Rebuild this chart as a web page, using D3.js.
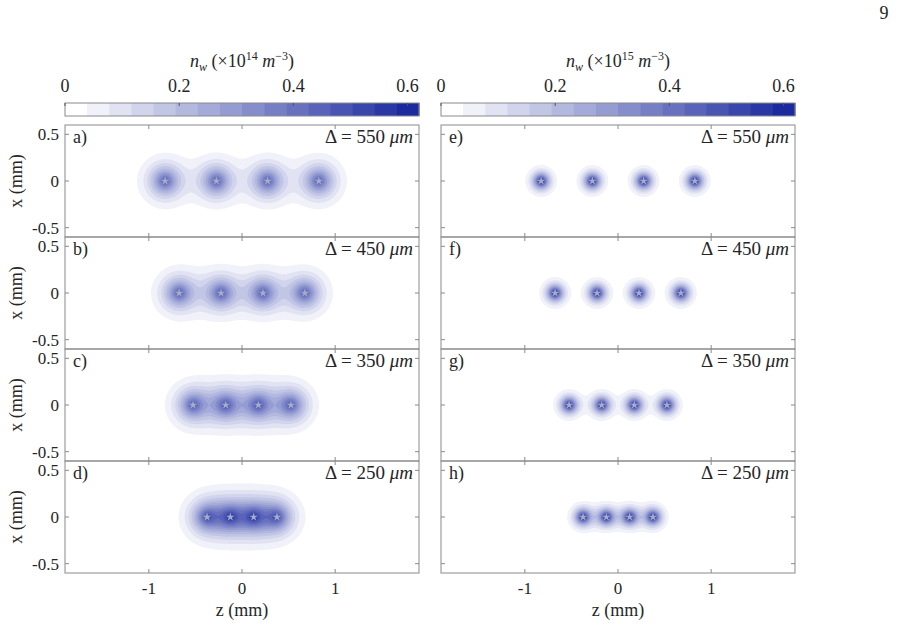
<!DOCTYPE html>
<html>
<head>
<meta charset="utf-8">
<script src="https://cdn.jsdelivr.net/npm/d3@7"></script>
</head>
<body style="margin:0; background:#fff">
<svg id="chart" width="915" height="629"></svg>
<script>
const width = 915;
const height = 629;

// emitter positions along z (mm), one row per panel
const spacings = [550, 450, 350, 250];
const emitterZ = [
    [-0.825, -0.275, 0.275, 0.825],
    [-0.675, -0.225, 0.225, 0.675],
    [-0.525, -0.175, 0.175, 0.525],
    [-0.375, -0.125, 0.125, 0.375]
];
const leftLabels = ['a)', 'b)', 'c)', 'd)'];
const rightLabels = ['e)', 'f)', 'g)', 'h)'];
const exponents = ['14', '15'];

// single emitter profile per column: peak, spread (mm), shape exponent
const peakDensity = [0.45, 0.64];
const spreadMM = [0.151, 0.077];
const profileExp = [1.3, 1.3];

const cbarTicks = [0, 0.2, 0.4, 0.6];
const cbarMax = 0.62;
const nLevels = 16;
const zTicks = [-1, 0, 1];
const xTicks = [0.5, 0, -0.5];

const zDomain = [-1.9, 1.9];
const xDomain = [-0.6, 0.6];

const colLeft = [65, 441];
const colWidth = 354;
const rowTop = [125, 237, 349, 461];
const rowHeight = 112;

const svg = d3.select('#chart');
const step = cbarMax / nLevels;
const levels = d3.range(1, nLevels).map(k => k * step);
const colorOf = k => d3.interpolateRgb('#ffffff', '#1b2a9f')(k / (nLevels - 1));
const frameColor = '#8a8a8a';
const fontName = 'Liberation Serif';

// page number
svg.append('text').attr('x', 884).attr('y', 19).attr('text-anchor', 'middle')
    .attr('font-size', 18).text('9');

// grid
const dz = 0.01;
const nx = Math.round((zDomain[1] - zDomain[0]) / dz);
const ny = Math.round((xDomain[1] - xDomain[0]) / dz);

function densityGrid(zs, col){
    const vals = new Float64Array(nx * ny);
    for (let j = 0; j < ny; j++){
        const xv = xDomain[1] - (j + 0.5) * dz;
        for (let i = 0; i < nx; i++){
            const zv = zDomain[0] + (i + 0.5) * dz;
            let s = 0;
            for (const z0 of zs){
                const r = Math.hypot(zv - z0, xv);
                s += peakDensity[col] * Math.exp(-Math.pow(r / spreadMM[col], profileExp[col]));
            }
            vals[i + j * nx] = s;
        }
    }
    return vals;
}

[0, 1].forEach(col => {
    const left = colLeft[col];

    // colorbar
    const cb = d3.scaleLinear().domain([0, cbarMax]).range([left, left + colWidth]);
    const cbg = svg.append('g');
    cbg.selectAll('rect')
        .data(d3.range(nLevels))
        .enter()
        .append('rect')
        .attr('x', d => cb(d * step))
        .attr('y', 103)
        .attr('width', d => cb((d + 1) * step) - cb(d * step) + 0.5)
        .attr('height', 13)
        .attr('fill', d => colorOf(d));
    cbg.append('rect').attr('x', left).attr('y', 103).attr('width', colWidth).attr('height', 13)
        .attr('fill', 'none').attr('stroke', frameColor);
    cbg.selectAll('.cbtick')
        .data(cbarTicks)
        .enter()
        .append('line')
        .attr('x1', d => cb(d)).attr('x2', d => cb(d))
        .attr('y1', 103).attr('y2', 106)
        .attr('stroke', '#555');
    cbg.selectAll('.cblab')
        .data(cbarTicks)
        .enter()
        .append('text')
        .attr('x', d => cb(d))
        .attr('y', 92)
        .attr('text-anchor', 'middle')
        .attr('font-size', 18)
        .text(d => d === 0 ? '0' : d.toFixed(1));

    const title = cbg.append('text')
        .attr('x', left + 177)
        .attr('y', 67)
        .attr('text-anchor', 'middle')
        .attr('font-size', 18);
    title.append('tspan').attr('font-style', 'italic').text('n');
    title.append('tspan').attr('dy', 4).attr('font-size', 12).attr('font-style', 'italic').text('w');
    title.append('tspan').attr('dy', -4).text(' (×10');
    title.append('tspan').attr('dy', -7).attr('font-size', 12).text(exponents[col]);
    title.append('tspan').attr('dy', 7).attr('font-style', 'italic').text(' m');
    title.append('tspan').attr('dy', -7).attr('font-size', 12).text('−3');
    title.append('tspan').attr('dy', 7).text(')');

    const x = d3.scaleLinear().domain(zDomain).range([left, left + colWidth]);

    rowTop.forEach((top, row) => {
        const y = d3.scaleLinear().domain(xDomain).range([top + rowHeight, top]);
        const g = svg.append('g');
        const clipId = 'clip' + col + row;
        g.append('clipPath').attr('id', clipId)
            .append('rect').attr('x', left).attr('y', top).attr('width', colWidth).attr('height', rowHeight);

        const gx = d3.scaleLinear().domain([0, nx]).range([x(zDomain[0]), x(zDomain[1])]);
        const gy = d3.scaleLinear().domain([0, ny]).range([y(xDomain[1]), y(xDomain[0])]);
        const proj = d3.geoTransform({
            point: function(px, py){ this.stream.point(gx(px), gy(py)); }
        });
        const path = d3.geoPath(proj);

        const contours = d3.contours().size([nx, ny]).thresholds(levels)(densityGrid(emitterZ[row], col));

        g.append('g')
            .attr('clip-path', 'url(#' + clipId + ')')
            .selectAll('path')
            .data(contours)
            .enter()
            .append('path')
            .attr('d', path)
            .attr('fill', (d, i) => colorOf(i + 1));

        // emitter stars
        g.selectAll('.star')
            .data(emitterZ[row])
            .enter()
            .append('path')
            .attr('transform', d => `translate(${x(d)},${y(0)})`)
            .attr('d', d3.symbol(d3.symbolStar).size(22))
            .attr('fill', '#a9acc4');

        // frame and inward ticks on all sides
        g.append('rect').attr('x', left).attr('y', top).attr('width', colWidth).attr('height', rowHeight)
            .attr('fill', 'none').attr('stroke', frameColor);
        const tk = 4;
        zTicks.forEach(t => {
            g.append('line').attr('x1', x(t)).attr('x2', x(t)).attr('y1', top).attr('y2', top + tk).attr('stroke', frameColor);
            g.append('line').attr('x1', x(t)).attr('x2', x(t)).attr('y1', top + rowHeight).attr('y2', top + rowHeight - tk).attr('stroke', frameColor);
        });
        xTicks.forEach(t => {
            g.append('line').attr('x1', left).attr('x2', left + tk).attr('y1', y(t)).attr('y2', y(t)).attr('stroke', frameColor);
            g.append('line').attr('x1', left + colWidth).attr('x2', left + colWidth - tk).attr('y1', y(t)).attr('y2', y(t)).attr('stroke', frameColor);
        });

        // panel letter and spacing label
        g.append('text').attr('x', left + 8).attr('y', top + 18)
            .attr('font-size', 18)
            .text(col === 0 ? leftLabels[row] : rightLabels[row]);
        const lab = g.append('text').attr('x', left + colWidth - 6).attr('y', top + 18)
            .attr('text-anchor', 'end')
            .attr('font-size', 19);
        lab.append('tspan').text('Δ = ' + spacings[row] + ' ');
        lab.append('tspan').attr('font-style', 'italic').text('μm');

        if (col === 0){
            g.selectAll('.ylab')
                .data(xTicks)
                .enter()
                .append('text')
                .attr('x', left - 6)
                .attr('y', d => y(d) + 6)
                .attr('text-anchor', 'end')
                .attr('font-size', 17)
                .text(d => d === 0 ? '0' : d.toString());
            g.append('text')
                .attr('transform', `translate(22,${top + rowHeight / 2}) rotate(-90)`)
                .attr('text-anchor', 'middle')
                .attr('font-size', 18)
                .text('x (mm)');
        }

        if (row === rowTop.length - 1){
            g.selectAll('.xlab')
                .data(zTicks)
                .enter()
                .append('text')
                .attr('x', d => x(d))
                .attr('y', top + rowHeight + 21)
                .attr('text-anchor', 'middle')
                .attr('font-size', 17)
                .text(d => d.toString());
            g.append('text')
                .attr('x', x(0))
                .attr('y', top + rowHeight + 43)
                .attr('text-anchor', 'middle')
                .attr('font-size', 18)
                .text('z (mm)');
        }
    });
});

svg.selectAll('text').attr('font-family', fontName).attr('fill', '#262626');
</script>
</body>
</html>
